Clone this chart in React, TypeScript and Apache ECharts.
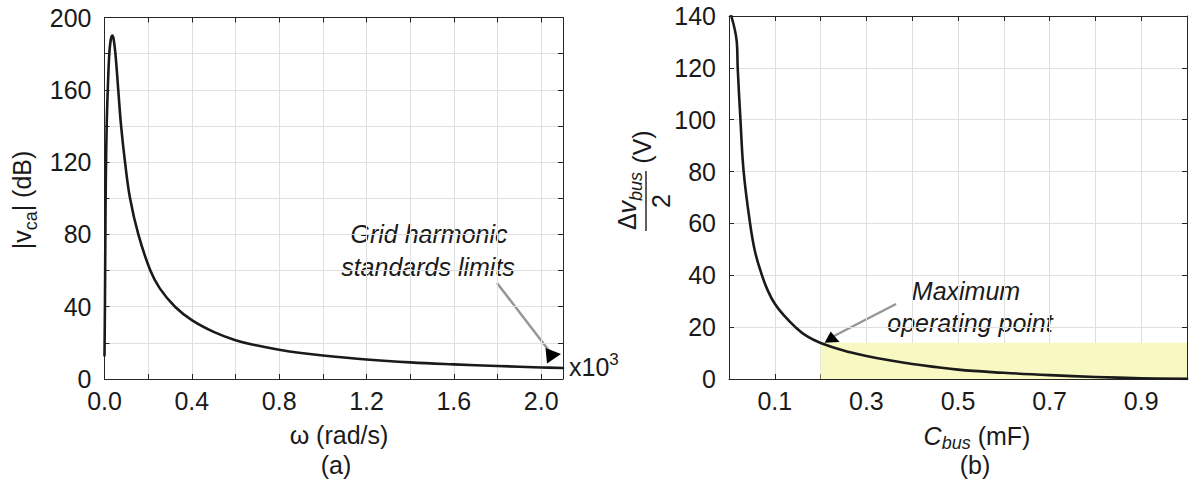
import { useEffect, useRef } from 'react';
import * as echarts from 'echarts';

const FONT = '"Liberation Sans", Arial, Helvetica, sans-serif';
const INK = '#1a1a1a';
const AXIS = '#262626';
const GRID = '#dfdfdf';

// (a) capacitor voltage magnitude vs. angular frequency (x10^3 rad/s)
const omega = [0, 0.002, 0.004, 0.006, 0.01, 0.015, 0.022, 0.029, 0.036, 0.042, 0.05, 0.063, 0.076, 0.094, 0.117, 0.155, 0.21, 0.254, 0.323, 0.4, 0.5, 0.6, 0.7, 0.8, 0.9, 1.0, 1.2, 1.4, 1.6, 1.8, 2.0, 2.1];
const vcaDb = [13, 40, 80, 110, 140, 160, 180, 188, 190, 188, 180, 160, 140, 120, 100, 80, 60, 50, 40, 32.6, 26.1, 21.5, 18.5, 16.2, 14.4, 13.0, 10.8, 9.2, 8.1, 7.2, 6.4, 6.1];

// (b) half bus-voltage ripple vs. bus capacitance (mF)
const cBus = [0.005, 0.017, 0.019, 0.025, 0.032, 0.046, 0.057, 0.072, 0.085, 0.1, 0.12, 0.145, 0.17, 0.2, 0.25, 0.3, 0.35, 0.4, 0.5, 0.6, 0.7, 0.8, 0.9, 1.0];
const dvBusHalf = [140, 130, 120, 100, 80, 60, 49, 40, 34, 29, 24.5, 20, 16.5, 13.9, 11, 8.9, 7.2, 5.8, 3.6, 2.4, 1.5, 0.8, 0.3, 0.05];

// admissible operating region in (b)
const regionCStart = 0.2;
const regionCEnd = 1.0;
const regionDvTop = 14;

// axis ranges / ticks
const axA = { xMin: 0, xMax: 2.1, xStep: 0.2, yMin: 0, yMax: 200, yStep: 20 };
const axB = { xMin: 0, xMax: 1.0, xStep: 0.1, yMin: 0, yMax: 140, yStep: 20 };

type Piece = { t: string; s: number; it?: boolean; dy?: number };

let measureCtx: CanvasRenderingContext2D | null = null;
function fontOf(p: Piece) {
  return `${p.it ? 'italic ' : ''}${p.s}px ${FONT}`;
}
function measure(p: Piece) {
  if (!measureCtx) measureCtx = document.createElement('canvas').getContext('2d');
  measureCtx!.font = fontOf(p);
  return measureCtx!.measureText(p.t).width;
}

// lays out a run of text pieces on a common baseline
function textRun(pieces: Piece[], x0: number, baseline: number, align: 'left' | 'center' = 'left') {
  const widths = pieces.map(measure);
  const total = widths.reduce((a, b) => a + b, 0);
  let x = align === 'center' ? x0 - total / 2 : x0;
  return pieces.map((p, i) => {
    const el = {
      type: 'text',
      silent: true,
      style: {
        text: p.t,
        x,
        y: baseline + (p.dy || 0) - 0.3465 * p.s,
        font: fontOf(p),
        fill: INK,
        stroke: 'none',
        lineWidth: 0,
        align: 'left',
        verticalAlign: 'middle',
        textAlign: 'left',
        textVerticalAlign: 'middle',
      },
    };
    x += widths[i];
    return el;
  });
}
function runWidth(pieces: Piece[]) {
  return pieces.map(measure).reduce((a, b) => a + b, 0);
}

function valueAxis(grid: number, pos: string, r: { min: number; max: number; step: number }, labels: ((v: number) => string) | null, extra: any = {}) {
  return {
    type: 'value',
    gridIndex: grid,
    position: pos,
    min: r.min,
    max: r.max,
    interval: r.step,
    axisLine: { show: true, onZero: false, lineStyle: { color: AXIS, width: 1 } },
    axisTick: { show: true, inside: true, length: 5, lineStyle: { color: AXIS, width: 1 } },
    axisLabel: labels
      ? { show: true, formatter: labels, fontSize: 25, color: INK, fontFamily: FONT, margin: 9, ...extra }
      : { show: false },
    splitLine: { show: !!labels, lineStyle: { color: GRID, width: 1 } },
  };
}

export default function App() {
  const ref = useRef<HTMLDivElement>(null);

  useEffect(() => {
    if (!ref.current) return;
    const chart = echarts.init(ref.current, undefined, { renderer: 'svg' });

    const fmtA = (v: number) => (Math.round(v * 10) % 4 === 0 ? v.toFixed(1) : '');
    const fmtAy = (v: number) => (Math.round(v) % 40 === 0 ? String(Math.round(v)) : '');
    const fmtB = (v: number) => (Math.round(v * 10) % 2 === 1 ? v.toFixed(1) : '');
    const fmtBy = (v: number) => String(Math.round(v));

    // rotated y label of (a): |v_ca| (dB)
    const yLabelA: Piece[] = [
      { t: '|', s: 25 },
      { t: 'v', s: 25 },
      { t: 'ca', s: 18, dy: 6 },
      { t: '| (dB)', s: 25 },
    ];
    // rotated y label of (b): Δv_bus / 2 (V)
    const numB: Piece[] = [
      { t: 'Δ', s: 25 },
      { t: 'v', s: 25, it: true },
      { t: 'bus', s: 18, it: true, dy: 6 },
    ];
    const numW = runWidth(numB);

    const graphic: any[] = [
      {
        type: 'group',
        x: 31,
        y: 200,
        rotation: Math.PI / 2,
        children: textRun(yLabelA, 0, 0, 'center'),
      },
      {
        type: 'group',
        x: 645,
        y: 201,
        rotation: Math.PI / 2,
        children: [
          ...textRun(numB, 0, -9, 'center'),
          {
            type: 'line',
            silent: true,
            shape: { x1: -numW / 2 - 1, y1: 1, x2: numW / 2 + 1, y2: 1 },
            style: { stroke: INK, lineWidth: 1.4 },
          },
          ...textRun([{ t: '2', s: 25 }], 0, 25, 'center'),
          ...textRun([{ t: '(V)', s: 25 }], 54, 6, 'center'),
        ],
      },
      // x labels and panel captions
      ...textRun([{ t: 'ω (rad/s)', s: 25 }], 339, 444, 'center'),
      ...textRun([{ t: '(a)', s: 25 }], 336, 474, 'center'),
      ...textRun(
        [
          { t: 'C', s: 25, it: true },
          { t: 'bus', s: 18, it: true, dy: 4 },
          { t: ' (mF)', s: 25 },
        ],
        977,
        445,
        'center'
      ),
      ...textRun([{ t: '(b)', s: 25 }], 975, 474, 'center'),
      // axis multiplier
      ...textRun([{ t: 'x10', s: 25 }, { t: '3', s: 17, dy: -11 }], 569, 376),
      // annotation (a)
      ...textRun([{ t: 'Grid harmonic', s: 25, it: true }], 429, 243, 'center'),
      ...textRun([{ t: 'standards limits', s: 25, it: true }], 428, 276, 'center'),
      {
        type: 'line',
        silent: true,
        shape: { x1: 497, y1: 283, x2: 550, y2: 352 },
        style: { stroke: '#969696', lineWidth: 2.5 },
      },
      {
        type: 'polygon',
        silent: true,
        shape: { points: [[545.5, 348], [561, 354], [547, 363.5]] },
        style: { fill: '#000' },
      },
      // annotation (b)
      ...textRun([{ t: 'Maximum', s: 25, it: true }], 966, 300, 'center'),
      ...textRun([{ t: 'operating point', s: 25, it: true }], 970, 332, 'center'),
      {
        type: 'line',
        silent: true,
        shape: { x1: 896, y1: 304, x2: 834, y2: 336 },
        style: { stroke: '#969696', lineWidth: 2.5 },
      },
      {
        type: 'polygon',
        silent: true,
        shape: { points: [[824.5, 343], [830.7, 331.5], [839.5, 342]] },
        style: { fill: '#000' },
      },
    ];

    chart.setOption({
      animation: false,
      backgroundColor: '#ffffff',
      textStyle: { fontFamily: FONT },
      grid: [
        { left: 104.5, top: 17.5, width: 458.5, height: 361.5, containLabel: false },
        { left: 729, top: 16, width: 460.5, height: 363, containLabel: false },
      ],
      xAxis: [
        valueAxis(0, 'bottom', { min: axA.xMin, max: axA.xMax, step: axA.xStep }, fmtA),
        valueAxis(0, 'top', { min: axA.xMin, max: axA.xMax, step: axA.xStep }, null),
        valueAxis(1, 'bottom', { min: axB.xMin, max: axB.xMax, step: axB.xStep }, fmtB),
        valueAxis(1, 'top', { min: axB.xMin, max: axB.xMax, step: axB.xStep }, null),
      ],
      yAxis: [
        valueAxis(0, 'left', { min: axA.yMin, max: axA.yMax, step: axA.yStep }, fmtAy, { margin: 13 }),
        valueAxis(0, 'right', { min: axA.yMin, max: axA.yMax, step: axA.yStep }, null),
        valueAxis(1, 'left', { min: axB.yMin, max: axB.yMax, step: axB.yStep }, fmtBy, { margin: 13 }),
        valueAxis(1, 'right', { min: axB.yMin, max: axB.yMax, step: axB.yStep }, null),
      ],
      series: [
        {
          type: 'line',
          xAxisIndex: 0,
          yAxisIndex: 0,
          data: omega.map((w, i) => [w, vcaDb[i]]),
          showSymbol: false,
          smooth: 0.4,
          lineStyle: { color: INK, width: 2.6, join: 'round', cap: 'round' },
          z: 3,
        },
        {
          type: 'line',
          xAxisIndex: 2,
          yAxisIndex: 2,
          data: cBus.map((c, i) => [c, dvBusHalf[i]]),
          showSymbol: false,
          smooth: 0.4,
          lineStyle: { color: INK, width: 2.6, join: 'round', cap: 'round' },
          z: 3,
          markArea: {
            silent: true,
            z: 1,
            itemStyle: { color: '#f8f8c2' },
            data: [[{ coord: [regionCStart, 0] }, { coord: [regionCEnd, regionDvTop] }]],
          },
        },
      ],
      graphic,
    });

    return () => chart.dispose();
  }, []);

  return (
    <div
      ref={ref}
      style={{ position: 'absolute', left: 0, top: 0, width: 1190, height: 487, background: '#fff' }}
    />
  );
}
